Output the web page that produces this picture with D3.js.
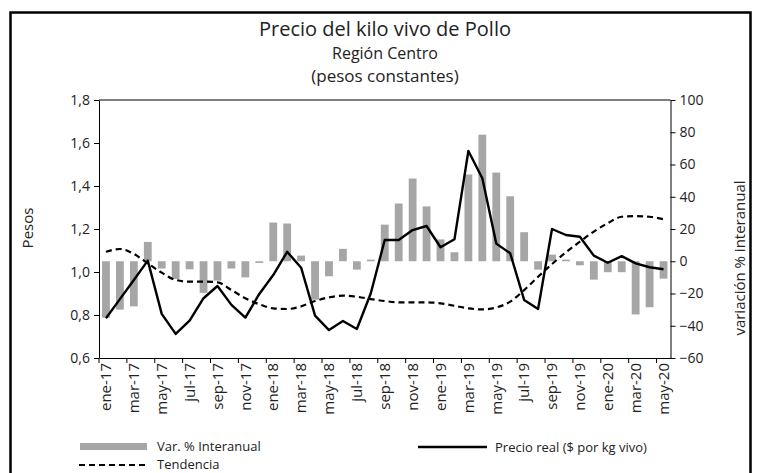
<!DOCTYPE html>
<html>
<head>
    <meta charset="utf-8">
    <title>Precio del kilo vivo de Pollo</title>
    <style>
        body { margin: 0; background: #fff; }
        text { font-family: "Open Sans", sans-serif; fill: #222; }
    </style>
</head>
<body>
    <script src="https://cdnjs.cloudflare.com/ajax/libs/d3/7.9.0/d3.min.js"></script>
    <script>
        const width = 761;
        const height = 473;
        const margin = {top: 100, right: 90, bottom: 115, left: 99};

        // data
        const months = ["ene-17","feb-17","mar-17","abr-17","may-17","jun-17","jul-17","ago-17","sep-17","oct-17","nov-17","dic-17",
            "ene-18","feb-18","mar-18","abr-18","may-18","jun-18","jul-18","ago-18","sep-18","oct-18","nov-18","dic-18",
            "ene-19","feb-19","mar-19","abr-19","may-19","jun-19","jul-19","ago-19","sep-19","oct-19","nov-19","dic-19",
            "ene-20","feb-20","mar-20","abr-20","may-20"];
        const varInteranual = [-35, -30, -28, 12, -4.5, -11, -5, -19.6, -12, -4.5, -10, -1,
            24, 23.4, 3.5, -23.8, -9.3, 7.7, -5.2, 1, 22.7, 35.8, 51.3, 34,
            13.5, 5.6, 53.8, 78.5, 55, 40.3, 18, -5.2, 4.1, 1, -2.5, -11.4,
            -6.8, -6.8, -33, -28.5, -10.8];
        const precioReal = [0.785, 0.874, 0.963, 1.053, 0.805, 0.712, 0.774, 0.878, 0.935, 0.847, 0.788, 0.898,
            0.986, 1.094, 1.02, 0.797, 0.730, 0.772, 0.735, 0.901, 1.149, 1.149, 1.195, 1.214,
            1.115, 1.152, 1.563, 1.436, 1.132, 1.087, 0.870, 0.828, 1.200, 1.172, 1.164, 1.076,
            1.043, 1.074, 1.040, 1.022, 1.013];
        const tendencia = [1.094, 1.107, 1.084, 1.040, 0.997, 0.963, 0.955, 0.955, 0.952, 0.916, 0.878, 0.850,
            0.831, 0.828, 0.840, 0.865, 0.882, 0.890, 0.885, 0.874, 0.865, 0.859, 0.859, 0.859,
            0.854, 0.843, 0.831, 0.826, 0.835, 0.862, 0.916, 0.978, 1.037, 1.092, 1.141, 1.188,
            1.227, 1.257, 1.260, 1.257, 1.245];
        const leftTicks = [0.6, 0.8, 1.0, 1.2, 1.4, 1.6, 1.8];
        const rightTicks = [-60, -40, -20, 0, 20, 40, 60, 80, 100];

        const svg = d3.select("body")
            .append("svg")
            .attr("width", width)
            .attr("height", height);

        // outer frame
        svg.append("rect")
            .attr("x", 10.5).attr("y", 12.5)
            .attr("width", 740).attr("height", 480)
            .attr("fill", "none")
            .attr("stroke", "#000")
            .attr("stroke-width", 2.5);

        const x = d3.scaleBand()
            .domain(months)
            .range([margin.left, width - margin.right - 0.5])
            .padding(0);

        const yLeft = d3.scaleLinear()
            .domain([0.6, 1.8])
            .range([height - margin.bottom, margin.top]);

        const yRight = d3.scaleLinear()
            .domain([-60, 100])
            .range([height - margin.bottom, margin.top]);

        const barW = x.bandwidth() * 0.56;

        // bars
        svg.append("g")
            .selectAll("rect")
            .data(varInteranual)
            .join("rect")
            .attr("x", (d, i) => x(months[i]) + (x.bandwidth() - barW) / 2)
            .attr("y", d => yRight(Math.max(0, d)))
            .attr("width", barW)
            .attr("height", d => Math.max(1.5, Math.abs(yRight(d) - yRight(0))))
            .attr("fill", "#a6a6a6");

        const cx = i => x(months[i]) + x.bandwidth() / 2;

        svg.append("path")
            .datum(tendencia)
            .attr("fill", "none")
            .attr("stroke", "#000")
            .attr("stroke-width", 2.2)
            .attr("stroke-dasharray", "6,4")
            .attr("d", d3.line().x((d, i) => cx(i)).y(d => yLeft(d)).curve(d3.curveMonotoneX));

        svg.append("path")
            .datum(precioReal)
            .attr("fill", "none")
            .attr("stroke", "#000")
            .attr("stroke-width", 2.4)
            .attr("stroke-linejoin", "round")
            .attr("d", d3.line().x((d, i) => cx(i)).y(d => yLeft(d)));

        // plot box top line
        svg.append("line")
            .attr("x1", x.range()[0]).attr("x2", x.range()[1])
            .attr("y1", margin.top).attr("y2", margin.top)
            .attr("stroke", "#000").attr("stroke-width", 1);

        // axes
        const leftAxis = svg.append("g")
            .attr("transform", `translate(${margin.left},0)`)
            .call(d3.axisLeft(yLeft).tickValues(leftTicks).tickSize(5).tickSizeOuter(0)
                .tickFormat(d => d3.format(".1f")(d).replace(".", ",")));

        const rightAxis = svg.append("g")
            .attr("transform", `translate(${x.range()[1]},0)`)
            .call(d3.axisRight(yRight).tickValues(rightTicks).tickSize(5).tickSizeOuter(0));

        const bottomAxis = svg.append("g")
            .attr("transform", `translate(0,${height - margin.bottom})`)
            .call(d3.axisBottom(x).tickValues(months.filter((d, i) => i % 2 === 0)).tickSize(0).tickSizeOuter(0));

        bottomAxis.selectAll(".tick text")
            .attr("transform", "rotate(-90)")
            .attr("text-anchor", "end")
            .attr("x", -5)
            .attr("y", 0)
            .attr("dy", "0.35em");

        // ticks at start of each labelled month
        bottomAxis.selectAll(".xtick")
            .data(months.filter((d, i) => i % 2 === 0))
            .join("line")
            .attr("x1", d => x(d)).attr("x2", d => x(d))
            .attr("y1", 0).attr("y2", 5)
            .attr("stroke", "#000");

        [leftAxis, rightAxis, bottomAxis].forEach(a => {
            a.selectAll("text").attr("font-size", 14).attr("font-family", "Open Sans").attr("fill", "#222");
            a.selectAll("path, line").attr("stroke", "#000");
        });
        bottomAxis.selectAll(".tick text").attr("font-size", 15);
        leftAxis.selectAll(".tick text").attr("x", -9);
        rightAxis.selectAll(".tick text").attr("x", 9);

        // titles
        svg.append("text")
            .attr("x", 385).attr("y", 36)
            .attr("text-anchor", "middle")
            .attr("font-size", 20)
            .attr("fill", "#111")
            .text("Precio del kilo vivo de Pollo");
        svg.append("text")
            .attr("x", 385).attr("y", 59)
            .attr("text-anchor", "middle")
            .attr("font-size", 16)
            .attr("fill", "#333")
            .text("Región Centro");
        svg.append("text")
            .attr("x", 385).attr("y", 82)
            .attr("text-anchor", "middle")
            .attr("font-size", 17)
            .attr("fill", "#333")
            .text("(pesos constantes)");

        svg.append("text")
            .attr("transform", "translate(33,228) rotate(-90)")
            .attr("text-anchor", "middle")
            .attr("font-size", 15)
            .attr("fill", "#444")
            .text("Pesos");
        svg.append("text")
            .attr("transform", "translate(745,258) rotate(-90)")
            .attr("text-anchor", "middle")
            .attr("font-size", 15)
            .attr("fill", "#444")
            .text("variación % interanual");

        // legend
        const legend = svg.append("g");
        legend.append("rect")
            .attr("x", 80).attr("y", 443).attr("width", 67).attr("height", 7)
            .attr("fill", "#a6a6a6");
        legend.append("text").attr("x", 157).attr("y", 451).attr("font-size", 13).text("Var. % Interanual");
        legend.append("line")
            .attr("x1", 79).attr("x2", 147).attr("y1", 465).attr("y2", 465)
            .attr("stroke", "#000").attr("stroke-width", 2.2).attr("stroke-dasharray", "6,4");
        legend.append("text").attr("x", 157).attr("y", 469).attr("font-size", 13).text("Tendencia");
        legend.append("line")
            .attr("x1", 418).attr("x2", 487).attr("y1", 447).attr("y2", 447)
            .attr("stroke", "#000").attr("stroke-width", 2.4);
        legend.append("text").attr("x", 495).attr("y", 452).attr("font-size", 13).text("Precio real ($ por kg vivo)");
    </script>
</body>
</html>
